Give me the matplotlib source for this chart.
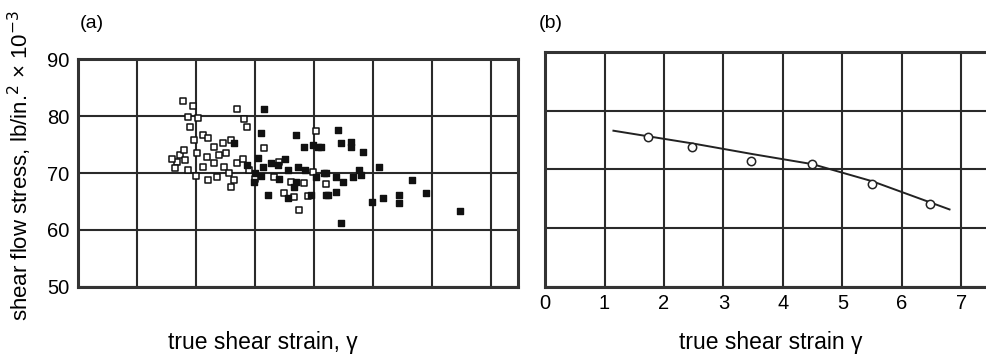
import matplotlib.pyplot as plt

plt.rcParams['font.family'] = ['Liberation Sans', 'DejaVu Sans']

# panel (a): open symbols
open_x = [1.77, 1.94, 1.87, 2.04, 1.90, 2.11, 2.21, 1.96, 1.73, 1.82, 1.68, 1.87,
          2.02, 2.19, 2.11, 2.30, 2.38, 2.47, 2.21, 2.55, 2.64, 2.59, 2.70, 2.81,
          2.87, 2.59, 2.70, 2.36, 3.15, 3.32, 3.49, 3.66, 3.74, 3.98, 4.03, 3.83,
          2.45, 1.79, 1.60, 1.65, 2.00, 2.30, 2.50, 2.80, 2.90, 3.00, 3.40, 3.60,
          4.20, 3.90]
open_y = [82.7, 81.7, 79.9, 79.7, 78.0, 76.7, 76.2, 75.8, 73.2, 72.3, 71.9, 70.5,
          73.5, 72.8, 71.1, 71.8, 73.2, 71.1, 68.8, 70.0, 68.8, 67.5, 81.2, 79.4,
          78.0, 75.8, 71.8, 69.3, 74.4, 69.3, 66.5, 65.8, 63.5, 70.2, 77.3, 68.2,
          75.3, 74.1, 72.5, 70.8, 69.5, 74.5, 73.5, 72.5, 70.5, 69.0, 72.0, 68.5,
          68.0, 66.0]

# panel (a): filled symbols
solid_x = [3.15, 3.10, 3.69, 2.64, 2.87, 3.04, 3.13, 3.27, 3.38, 2.98, 3.21, 3.55,
           3.72, 3.83, 3.98, 4.06, 3.95, 4.20, 3.66, 3.55, 4.03, 4.17, 4.40, 4.46,
           4.63, 4.63, 4.83, 4.12, 4.20, 4.37, 4.49, 4.66, 4.76, 4.80, 5.09, 4.23,
           4.37, 4.46, 4.97, 5.17, 5.44, 5.44, 5.65, 5.90, 6.46, 3.00, 3.10, 3.40,
           3.70, 3.85, 3.50]
solid_y = [81.2, 77.1, 76.7, 75.3, 71.4, 72.7, 71.1, 71.8, 71.4, 68.4, 66.1, 70.5,
           71.1, 74.6, 75.0, 74.6, 66.1, 66.1, 67.5, 65.6, 69.3, 70.0, 77.6, 75.3,
           75.5, 74.6, 73.7, 74.6, 70.0, 69.3, 68.4, 69.3, 70.5, 69.6, 71.1, 66.1,
           66.6, 61.3, 64.9, 65.6, 66.1, 64.7, 68.8, 66.5, 63.3, 70.0, 69.5, 69.0,
           68.5, 70.5, 72.5]

# panel (b): averaged points and fitted curve
avg_x = [1.73, 2.47, 3.47, 4.48, 5.49, 6.48]
avg_y = [75.5, 73.8, 71.5, 71.0, 67.6, 64.2]
curve_x = [1.15, 2.5, 3.5, 4.5, 5.5, 6.8]
curve_y = [76.6, 74.4, 72.6, 70.9, 68.0, 63.2]

yticks = [50, 60, 70, 80, 90]
xticks = [0, 1, 2, 3, 4, 5, 6, 7]

fig = plt.figure(figsize=(9.87, 3.59), dpi=100)
ax1 = fig.add_axes([0.079, 0.2006, 0.4458, 0.635])
ax2 = fig.add_axes([0.5522, 0.2006, 0.4478, 0.6546])

grid_col = '#2a2a2a'
for ax in (ax1, ax2):
    ax.set_ylim(50, 90)
    ax.set_yticks(yticks)
    ax.set_xticks(xticks)
    ax.grid(True, color=grid_col, linewidth=1.5)
    ax.set_axisbelow(True)
    for s in ax.spines.values():
        s.set_linewidth(2.2)
        s.set_color('#333333')
    ax.tick_params(length=0, labelsize=14.5, pad=5)

ax1.set_xlim(0, 7.45)
ax1.set_xticklabels([])
ax1.tick_params(axis='y', pad=6)
ax1.scatter(open_x, open_y, marker='s', s=24, facecolors='white',
            edgecolors='#111111', linewidths=1.1, zorder=3)
ax1.scatter(solid_x, solid_y, marker='s', s=24, color='#111111', zorder=4)

ax2.set_xlim(0, 7.43)
ax2.set_yticklabels([])
ax2.spines['right'].set_visible(False)
ax2.plot(curve_x, curve_y, color='#222222', linewidth=1.4, zorder=3)
ax2.plot(avg_x, avg_y, 'o', markersize=6, markerfacecolor='white',
         markeredgecolor='#222222', markeredgewidth=1.1, zorder=4)

fig.text(0.081, 0.935, '(a)', fontsize=14, ha='left', va='center')
fig.text(0.546, 0.935, '(b)', fontsize=14, ha='left', va='center')
fig.text(0.02, 0.54, 'shear flow stress, lb/in.$^2$ \u00d7 10$^{-3}$',
         fontsize=16, rotation=90, ha='center', va='center')
fig.text(0.266, 0.045, 'true shear strain, \u03b3', fontsize=16.5,
         ha='center', va='center')
fig.text(0.781, 0.045, 'true shear strain \u03b3', fontsize=16.5,
         ha='center', va='center')

fig.savefig('out.png', dpi=100)
